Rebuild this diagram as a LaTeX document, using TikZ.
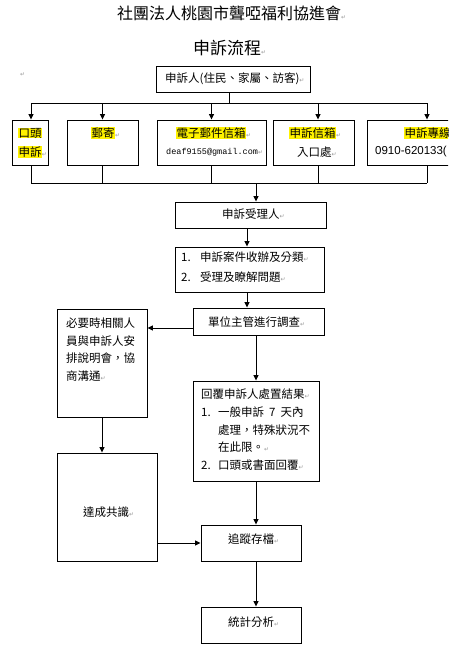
\documentclass[tikz,border=0pt]{standalone}
\usepackage{fontspec}
\setmainfont{Noto Sans CJK TC}
\newfontfamily\djvfont{DejaVu Sans}
\newfontfamily\monofont{Liberation Mono}
\newfontfamily\lsansfont{Liberation Sans}
\usetikzlibrary{arrows.meta}
\newcommand\pmk{{\djvfont\fontsize{6}{6}\selectfont\color{black!40}↵}}
\newcommand\hl[1]{{\setlength{\fboxsep}{0.4pt}\colorbox{yellow}{#1}}}
\newcommand\bx[5]{\node[box,minimum width={(#4-#2)*1pt},minimum height={(#5-#3)*1pt}] (#1) at ({(#2+#4)/2},{(#3+#5)/2}) {};}
\begin{document}
\begin{tikzpicture}[x=1pt,y=-1pt,
  box/.style={draw,line width=0.9pt,fill=white,inner sep=0pt},
  arr/.style={line width=0.9pt,-{Triangle[length=5.5pt,width=5pt]}},
  ln/.style={line width=0.9pt},
  txt/.style={inner sep=0pt,anchor=west,font=\fontsize{11.5}{13}\selectfont}]
\useasboundingbox (0,0) rectangle (448,646);
\clip (0,0) rectangle (448,646);
\fill[white] (0,0) rectangle (448,646);

% titles
\node[txt,font=\fontsize{16}{18}\selectfont] (title) at (117,13) {社團法人桃園市聾啞福利協進會\pmk};
\node[txt,font=\fontsize{17}{19}\selectfont] (sub) at (193,48) {申訴流程\pmk};
\node[txt] (stray) at (20,75) {\pmk};

% boxes
\bx{A}{156}{66}{310}{92}
\bx{B1}{12}{120}{48}{165}
\bx{B2}{67}{120}{138}{165}
\bx{B3}{157}{120}{266}{165}
\bx{B4}{273}{120}{354}{165}
\bx{B5}{367}{120}{487}{165}
\bx{C}{175}{202}{326}{228}
\bx{D}{175}{247}{324}{292}
\bx{E}{193}{308}{324}{335}
\bx{F}{57}{309}{147}{417}
\bx{G}{193}{381}{319}{481}
\bx{H}{57}{453}{157}{561}
\bx{I}{201}{525}{301}{561}
\bx{J}{201}{607}{301}{643}

% texts
\node[txt] (tA) at (165,79) {申訴人(住民、家屬、訪客)\pmk};
\node[txt] (tB1a) at (18,133) {\hl{口頭}};
\node[txt] (tB1b) at (18,152) {\hl{申訴}\pmk};
\node[txt] (tB2) at (91,133) {\hl{郵寄}\pmk};
\node[txt] (tB3a) at (176,133) {\hl{電子郵件信箱}\pmk};
\node[txt,font=\monofont\fontsize{8.5}{10}\selectfont] (tB3b) at (166,152) {deaf9155@gmail.com\pmk};
\node[txt] (tB4a) at (289,133) {\hl{申訴信箱}\pmk};
\node[txt] (tB4b) at (297,152) {入口處\pmk};
\node[txt] (tB5a) at (404,133) {\hl{申訴專線}};
\node[txt,font=\lsansfont\fontsize{11.5}{13}\selectfont] (tB5b) at (375,152) {0910-620133(};
\node[txt] (tC) at (222,214) {申訴受理人\pmk};
\node[txt] (tD1n) at (181,257) {1.};
\node[txt] (tD1) at (200,257) {申訴案件收辦及分類\pmk};
\node[txt] (tD2n) at (181,277) {2.};
\node[txt] (tD2) at (200,277) {受理及瞭解問題\pmk};
\node[txt] (tE) at (208,322) {單位主管進行調查\pmk};
\node[txt] (tF1) at (66,323) {必要時相關人};
\node[txt] (tF2) at (66,341) {員與申訴人安};
\node[txt] (tF3) at (66,358) {排說明會，協};
\node[txt] (tF4) at (66,376) {商溝通\pmk};
\node[txt] (tG0) at (201,394) {回覆申訴人處置結果\pmk};
\node[txt] (tG1n) at (201,412) {1.};
\node[txt] (tG1) at (218,412) {一般申訴\hspace{5pt}7\hspace{5pt}天內};
\node[txt] (tG2) at (218,430) {處理，特殊狀況不};
\node[txt] (tG3) at (218,447) {在此限。\pmk};
\node[txt] (tG4n) at (201,465) {2.};
\node[txt] (tG4) at (218,465) {口頭或書面回覆\pmk};
\node[txt] (tH) at (83,512) {達成共識\pmk};
\node[txt] (tI) at (228,539) {追蹤存檔\pmk};
\node[txt] (tJ) at (228,622) {統計分析\pmk};

% connectors
\coordinate (tL) at (31,103);
\coordinate (tR) at (427,103);
\coordinate (aS) at ([xshift=-4pt]A.south);
\coordinate (b4t) at ([xshift=4.5pt]B4.north);
\coordinate (b4b) at ([xshift=4.5pt]B4.south);
\draw[ln] (aS) -- (aS |- tL);
\draw[ln] (tL) -- (tR);
\draw[arr] (tL) -- (tL |- B1.north);
\draw[arr] (B2.north |- tL) -- (B2.north);
\draw[arr] (B3.north |- tL) -- (B3.north);
\draw[arr] (b4t |- tL) -- (b4t);
\draw[arr] (tR) -- (tR |- B5.north);

\coordinate (bL) at (31,183);
\coordinate (bR) at (427,183);
\coordinate (bM) at (256,183);
\draw[ln] (bL |- B1.south) -- (bL);
\draw[ln] (B2.south) -- (B2.south |- bL);
\draw[ln] (B3.south) -- (B3.south |- bL);
\draw[ln] (b4b) -- (b4b |- bL);
\draw[ln] (bR |- B5.south) -- (bR);
\draw[ln] (bL) -- (bR);
\draw[arr] (bM) -- (bM |- C.north);

\coordinate (x247) at (247,0);
\coordinate (x256) at (256,0);
\coordinate (y328) at (0,328);
\coordinate (y543) at (0,543);
\draw[arr] (x247 |- C.south) -- (x247 |- D.north);
\draw[arr] (x247 |- D.south) -- (x247 |- E.north);
\draw[arr] (E.west |- y328) -- (F.east |- y328);
\draw[arr] (x256 |- E.south) -- (x256 |- G.north);
\draw[arr] (F.south) -- (F.south |- H.north);
\draw[arr] (H.east |- y543) -- (I.west |- y543);
\draw[arr] (x256 |- G.south) -- (x256 |- I.north);
\draw[arr] (x256 |- I.south) -- (x256 |- J.north);
\end{tikzpicture}
\end{document}
